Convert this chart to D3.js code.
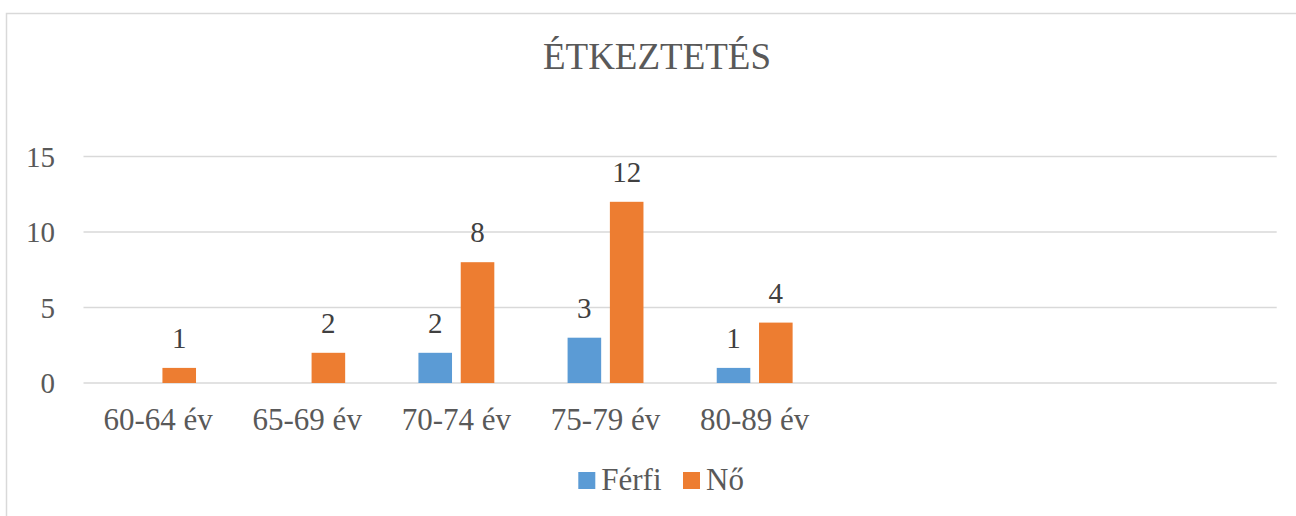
<!DOCTYPE html>
<html><head><meta charset="utf-8">
<script src="https://cdn.jsdelivr.net/npm/d3@7"></script>
<style>body{margin:0;background:#fff}svg{display:block}</style>
</head><body>
<svg id="c" width="1296" height="516"></svg>
<script>
const title = "ÉTKEZTETÉS";
const categories = ["60-64 év","65-69 év","70-74 év","75-79 év","80-89 év"];
const slotCount = 8;
const series = ["Férfi","Nő"];
const ferfi = [0,0,2,3,1];
const no = [1,2,8,12,4];
const yTicks = [0,5,10,15];
const colors = {"Férfi":"#5b9bd5","Nő":"#ed7d31"};

const svg = d3.select("#c");
const W = 1296, H = 516;
const m = {left:83.5, right:19.3, top:156.5, bottom:133};
const font = "Liberation Serif, Times New Roman, serif";
const txt = "#595959";

svg.append("rect").attr("x",6.5).attr("y",13.5).attr("width",W).attr("height",H)
  .attr("fill","#fff").attr("stroke","#d9d9d9").attr("stroke-width",1.5);

const x0 = d3.scaleBand().domain(d3.range(slotCount)).range([m.left, W-m.right]).padding(0);
const x1 = d3.scaleBand().domain(series).range([0, x0.bandwidth()]).paddingInner(0.206).paddingOuter(0.866);
const y = d3.scaleLinear().domain([0,15]).range([H-m.bottom, m.top]);

svg.append("g").selectAll("line").data(yTicks).join("line")
  .attr("x1",m.left).attr("x2",W-m.right)
  .attr("y1",d=>y(d)).attr("y2",d=>y(d))
  .attr("stroke","#d9d9d9").attr("stroke-width",1.5);

svg.append("g").selectAll("text").data(yTicks).join("text")
  .attr("x",55).attr("y",d=>y(d)).attr("dy","0.35em").attr("text-anchor","end")
  .attr("font-family",font).attr("font-size",29).attr("fill",txt).text(d=>d);

svg.append("g").selectAll("text").data(categories).join("text")
  .attr("x",(d,i)=>x0(i)+x0.bandwidth()/2).attr("y",y(0)+47)
  .attr("text-anchor","middle").attr("font-family",font).attr("font-size",31).attr("fill",txt).text(d=>d);

const rows = categories.map((c,i)=>({i, "Férfi":ferfi[i], "Nő":no[i]}));
const g = svg.append("g").selectAll("g").data(rows).join("g")
  .attr("transform",d=>`translate(${x0(d.i)},0)`);
const bars = g.selectAll("g").data(d=>series.map(s=>({s,v:d[s]}))).join("g");
bars.append("rect")
  .attr("x",d=>x1(d.s)).attr("width",x1.bandwidth())
  .attr("y",d=>y(d.v)).attr("height",d=>y(0)-y(d.v))
  .attr("fill",d=>colors[d.s]);
bars.filter(d=>d.v>0).append("text")
  .attr("x",d=>x1(d.s)+x1.bandwidth()/2).attr("y",d=>y(d.v)-20)
  .attr("text-anchor","middle").attr("font-family",font).attr("font-size",29).attr("fill","#404040")
  .text(d=>d.v);

svg.append("text").attr("x",657).attr("y",69).attr("text-anchor","middle")
  .attr("font-family",font).attr("font-size",37).attr("fill",txt).text(title);

const leg = svg.append("g");
const legX = [578.3, 683];
series.forEach((s,i)=>{
  leg.append("rect").attr("x",legX[i]).attr("y",472).attr("width",17).attr("height",17).attr("fill",colors[s]);
  leg.append("text").attr("x",legX[i]+23).attr("y",490).attr("font-family",font).attr("font-size",31).attr("fill",txt).text(s);
});
</script>
</body></html>
